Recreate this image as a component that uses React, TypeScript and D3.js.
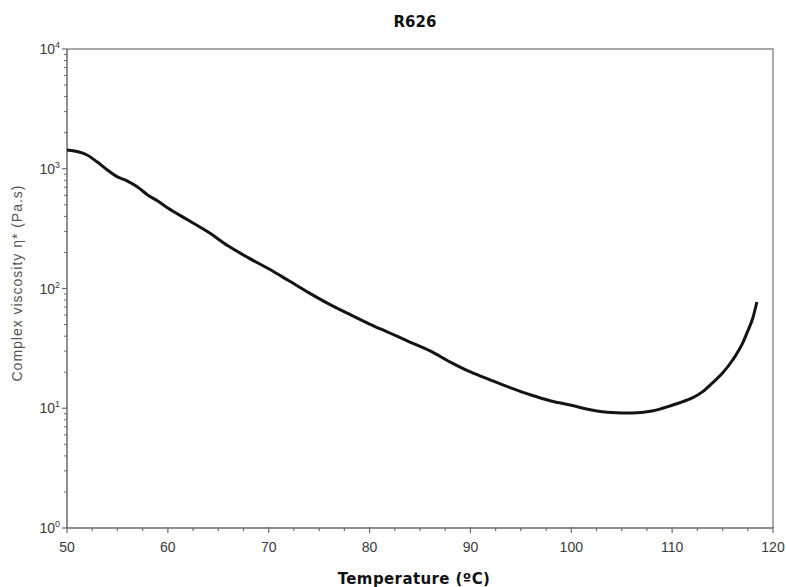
import React, { useEffect, useRef } from 'react';
import * as d3 from 'd3';

const temperature = [50, 51, 52, 53, 54, 55, 56, 57, 58, 59, 60, 62, 64, 66, 68, 70, 72, 74, 76, 78, 80, 82, 84, 86, 88, 90, 92, 94, 96, 98, 100, 102, 104, 106, 108, 110, 111, 112, 113, 114, 115, 116, 117, 117.5, 118, 118.4];
const viscosity = [1435, 1394, 1303, 1138, 977, 855, 789, 704, 604, 538, 470, 373, 296, 226, 180, 146, 116, 92, 74, 61, 50.5, 42.5, 35.7, 30.1, 24.3, 20.1, 17.2, 14.8, 12.9, 11.5, 10.6, 9.67, 9.21, 9.12, 9.49, 10.6, 11.3, 12.2, 13.7, 16.3, 19.7, 25.3, 35.1, 44.2, 56.7, 77.1];
const xTicks = [50, 60, 70, 80, 90, 100, 110, 120];
const yDecades = [0, 1, 2, 3, 4];

const W = 786;
const H = 587;
const margin = { top: 49, right: 13, bottom: 59, left: 67 };

function App() {
  const ref = useRef<SVGSVGElement>(null);

  useEffect(() => {
    const svg = d3.select(ref.current);
    svg.selectAll('*').remove();

    const x = d3.scaleLinear().domain([50, 120]).range([margin.left, W - margin.right]);
    const y = d3.scaleLog().domain([1, 10000]).range([H - margin.bottom, margin.top]);
    const axisColor = '#6b6b6b';
    const textColor = '#3a3a3a';
    const sans = 'Liberation Sans, Arial, sans-serif';

    // frame: top and right
    svg.append('path')
      .attr('d', `M${x(50)},${y(10000)}H${x(120)}V${y(1)}`)
      .attr('fill', 'none')
      .attr('stroke', '#8f8f8f')
      .attr('stroke-width', 1.5);

    // x axis
    const gx = svg.append('g');
    gx.append('line')
      .attr('x1', x(50)).attr('x2', x(120))
      .attr('y1', y(1)).attr('y2', y(1))
      .attr('stroke', axisColor).attr('stroke-width', 1.5);
    const minorX = d3.range(50, 120.01, 2.5);
    gx.selectAll('.mx')
      .data(minorX)
      .enter()
      .append('line')
      .attr('x1', d => x(d)).attr('x2', d => x(d))
      .attr('y1', d => y(1) - (d % 10 === 0 ? 1 : 0)).attr('y2', d => y(1) + (d % 10 === 0 ? 5 : 3))
      .attr('stroke', axisColor).attr('stroke-width', 1.2);
    gx.selectAll('.xl')
      .data(xTicks)
      .enter()
      .append('text')
      .attr('x', d => x(d))
      .attr('y', y(1) + 24)
      .attr('text-anchor', 'middle')
      .style('font-family', sans)
      .style('font-size', '14px')
      .attr('fill', textColor)
      .text(d => d);

    // y axis
    const gy = svg.append('g');
    gy.append('line')
      .attr('x1', x(50)).attr('x2', x(50))
      .attr('y1', y(1)).attr('y2', y(10000))
      .attr('stroke', axisColor).attr('stroke-width', 1.5);
    const minorY: number[] = [];
    yDecades.slice(0, -1).forEach(k => {
      for (let m = 2; m <= 9; m++) minorY.push(m * Math.pow(10, k));
    });
    gy.selectAll('.my')
      .data(minorY)
      .enter()
      .append('line')
      .attr('x1', x(50) - 3).attr('x2', x(50))
      .attr('y1', d => y(d)).attr('y2', d => y(d))
      .attr('stroke', axisColor).attr('stroke-width', 1);
    gy.selectAll('.My')
      .data(yDecades)
      .enter()
      .append('line')
      .attr('x1', x(50) - 5).attr('x2', x(50))
      .attr('y1', d => y(Math.pow(10, d))).attr('y2', d => y(Math.pow(10, d)))
      .attr('stroke', axisColor).attr('stroke-width', 1.2);
    const yl = gy.selectAll('.yl')
      .data(yDecades)
      .enter()
      .append('text')
      .attr('x', x(50) - 7)
      .attr('y', d => y(Math.pow(10, d)) + 5)
      .attr('text-anchor', 'end')
      .style('font-family', sans)
      .style('font-size', '14px')
      .attr('fill', textColor);
    yl.append('tspan').text('10');
    yl.append('tspan')
      .attr('dy', -6)
      .style('font-size', '9px')
      .text(d => d);

    // axis titles
    svg.append('text')
      .attr('transform', `translate(22,${(y(1) + y(10000)) / 2 - 5}) rotate(-90)`)
      .attr('text-anchor', 'middle')
      .attr('textLength', 196)
      .attr('lengthAdjust', 'spacing')
      .style('font-family', sans)
      .style('font-size', '14px')
      .attr('fill', '#555')
      .text('Complex viscosity η* (Pa.s)');

    svg.append('text')
      .attr('x', 415)
      .attr('y', 27)
      .attr('text-anchor', 'middle')
      .style('font-family', 'DejaVu Sans, Verdana, sans-serif')
      .style('font-weight', 'bold')
      .style('font-size', '15px')
      .attr('fill', '#111')
      .text('R626');

    svg.append('text')
      .attr('x', 414)
      .attr('y', 584)
      .attr('text-anchor', 'middle')
      .style('font-family', 'DejaVu Sans, Verdana, sans-serif')
      .style('font-weight', 'bold')
      .style('font-size', '15px')
      .style('letter-spacing', '0.4px')
      .attr('fill', '#111')
      .text('Temperature (ºC)');

    // curve
    const points = temperature.map((t, i) => [t, viscosity[i]] as [number, number]);
    const line = d3.line<[number, number]>()
      .x(d => x(d[0]))
      .y(d => y(d[1]))
      .curve(d3.curveMonotoneX);
    svg.append('path')
      .datum(points)
      .attr('d', line)
      .attr('fill', 'none')
      .attr('stroke', '#141414')
      .attr('stroke-width', 3)
      .attr('stroke-linejoin', 'round');
  }, []);

  return (
    <svg
      ref={ref}
      width={W}
      height={H}
      style={{ position: 'absolute', left: 0, top: 0, background: '#fff' }}
    />
  );
}

export default App;
